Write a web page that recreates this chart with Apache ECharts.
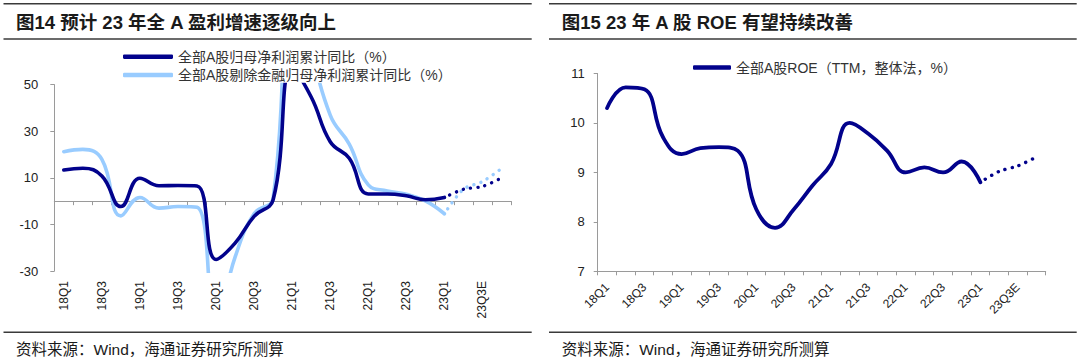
<!DOCTYPE html>
<html>
<head>
<meta charset="utf-8">
<script src="https://cdn.jsdelivr.net/npm/echarts@6/dist/echarts.min.js"></script>
<style>
html,body{margin:0;padding:0;background:#fff;}
#c{width:1080px;height:357px;}
</style>
</head>
<body>
<div id="c"></div>
<script>
// ---- data ----
const categories = ['18Q1','18Q2','18Q3','18Q4','19Q1','19Q2','19Q3','19Q4','20Q1','20Q2','20Q3','20Q4','21Q1','21Q2','21Q3','21Q4','22Q1','22Q2','22Q3','22Q4','23Q1','23Q2E','23Q3E','23Q4E'];
const leftYTicks = [-30, -10, 10, 30, 50];
const rightYTicks = [7, 8, 9, 10, 11];
const profitAll = [13.4, 14.1, 10.8, -2.3, 9.8, 6.6, 6.7, 6.5, -25.0, -18.0, -6.5, 0.6, 57.0, 44.7, 25.5, 18.4, 3.1, 3.1, 2.3, 0.6, 1.6, null, null, null];
const profitAllE = [null, null, null, null, null, null, null, null, null, null, null, null, null, null, null, null, null, null, null, null, 1.6, 5.1, 6.3, 10.0];
const profitExFin = [21.2, 22.2, 17.9, -6.3, 1.6, -3.0, -2.3, -2.6, -52.0, -24.0, -5.4, 1.3, 115.0, 68.0, 36.9, 24.5, 7.0, 4.4, 3.0, 0.1, -5.4, null, null, null];
const profitExFinE = [null, null, null, null, null, null, null, null, null, null, null, null, null, null, null, null, null, null, null, null, -5.4, 5.1, 8.4, 14.0];
const roe = [10.3, 10.72, 10.68, 9.71, 9.37, 9.49, 9.51, 9.44, 8.25, 7.88, 8.25, 8.73, 9.17, 10.0, 9.78, 9.44, 9.0, 9.1, 9.0, 9.22, 8.8, null, null, null];
const roeE = [null, null, null, null, null, null, null, null, null, null, null, null, null, null, null, null, null, null, null, null, 8.8, 9.02, 9.13, 9.31];
const nameAll = '全部A股归母净利润累计同比（%）';
const nameExFin = '全部A股剔除金融归母净利润累计同比（%）';
const nameRoe = '全部A股ROE（TTM，整体法，%）';

const DARK = '#02028C';
const LIGHT = '#99CCFF';
const AXIS = '#9a9a9a';
const LAT = "'Liberation Sans', Arial, 'Noto Sans CJK SC', sans-serif";
const CJK = "'Liberation Sans', 'Noto Sans CJK SC', sans-serif";

const chart = echarts.init(document.getElementById('c'), null, {renderer: 'svg', width: 1080, height: 357});

function hline(x1, x2, y) {
  return {type: 'line', shape: {x1: x1, y1: y, x2: x2, y2: y}, style: {stroke: '#3a3a3a', lineWidth: 1.6}, silent: true};
}
function txt(x, y, s, size, weight) {
  return {type: 'text', x: x, y: y, silent: true,
    style: {text: s, fill: '#1a1a1a', fontSize: size, fontWeight: weight, fontFamily: CJK, verticalAlign: 'middle', align: 'left'}};
}

const solid = (name, data, color, xi, yi, w) => ({
  name: name, type: 'line', data: data, xAxisIndex: xi, yAxisIndex: yi,
  smooth: 0.45, symbol: 'none', connectNulls: false,
  lineStyle: {color: color, width: w, cap: 'round', join: 'round'},
  itemStyle: {color: color}, z: 3
});
const dotted = (name, data, color, xi, yi, w) => ({
  name: name, type: 'line', data: data, xAxisIndex: xi, yAxisIndex: yi,
  smooth: 0.3, symbol: 'none', connectNulls: false,
  lineStyle: {color: color, width: w, type: [0.1, 7.2], dashOffset: -6, cap: 'round'},
  itemStyle: {color: color}, z: 2
});

const option = {
  animation: false,
  backgroundColor: '#fff',
  graphic: [
    hline(3.5, 531.7, 3.7), hline(3.5, 531.7, 39), hline(3.5, 531.7, 332.2),
    hline(549, 1076.7, 3.7), hline(549, 1076.7, 39), hline(549, 1076.7, 332.2),
    txt(16, 22, '图14 预计 23 年全 A 盈利增速逐级向上', 18.5, 'bold'),
    txt(561.7, 22, '图15 23 年 A 股 ROE 有望持续改善', 18.5, 'bold'),
    txt(16, 349, '资料来源：Wind，海通证券研究所测算', 15.5, 'normal'),
    txt(561.7, 349, '资料来源：Wind，海通证券研究所测算', 15.5, 'normal')
  ],
  legend: [
    {left: 123, top: 48.7, orient: 'vertical', padding: 0, itemGap: 2.3,
     itemWidth: 50, itemHeight: 4.5, icon: 'roundRect',
     data: [nameAll, nameExFin],
     textStyle: {fontSize: 14, color: '#333', fontFamily: CJK, lineHeight: 16}},
    {left: 693, top: 59.6, orient: 'vertical', padding: 0,
     itemWidth: 38, itemHeight: 4.5, icon: 'roundRect',
     data: [nameRoe],
     textStyle: {fontSize: 14, color: '#333', fontFamily: CJK, lineHeight: 16}}
  ],
  grid: [
    {left: 54.3, top: 84.6, width: 456.7, height: 186.5, containLabel: false, outerBoundsMode: 'none'},
    {left: 597.7, top: 73.5, width: 448, height: 197.8, containLabel: false, outerBoundsMode: 'none'}
  ],
  xAxis: [
    {gridIndex: 0, type: 'category', data: categories, boundaryGap: true,
     axisLine: {onZero: true, lineStyle: {color: AXIS, width: 1}},
     axisTick: {show: true, interval: 0, length: 4, lineStyle: {color: AXIS}},
     axisLabel: {interval: 1, rotate: 90, margin: 10, fontSize: 12, color: '#222', fontFamily: LAT},
     splitLine: {show: false}},
    {gridIndex: 1, type: 'category', data: categories, boundaryGap: true,
     axisLine: {lineStyle: {color: AXIS, width: 1}},
     axisTick: {show: true, interval: 0, length: 4, lineStyle: {color: AXIS}},
     axisLabel: {interval: 1, rotate: 45, margin: 14, fontSize: 12, color: '#222', fontFamily: LAT},
     splitLine: {show: false}}
  ],
  yAxis: [
    {gridIndex: 0, type: 'value', min: leftYTicks[0], max: leftYTicks[leftYTicks.length - 1], interval: leftYTicks[1] - leftYTicks[0],
     axisLine: {show: true, lineStyle: {color: AXIS, width: 1}},
     axisTick: {show: true, length: 4, lineStyle: {color: AXIS}},
     axisLabel: {margin: 16, fontSize: 13, color: '#222', fontFamily: LAT},
     splitLine: {show: false}},
    {gridIndex: 1, type: 'value', min: rightYTicks[0], max: rightYTicks[rightYTicks.length - 1], interval: rightYTicks[1] - rightYTicks[0],
     axisLine: {show: true, lineStyle: {color: AXIS, width: 1}},
     axisTick: {show: true, length: 4, lineStyle: {color: AXIS}},
     axisLabel: {margin: 13, fontSize: 13, color: '#222', fontFamily: LAT},
     splitLine: {show: false}}
  ],
  series: [
    solid(nameAll, profitAll, DARK, 0, 0, 3.6),
    solid(nameExFin, profitExFin, LIGHT, 0, 0, 3.6),
    dotted('exfinE', profitExFinE, LIGHT, 0, 0, 3.4),
    dotted('allE', profitAllE, DARK, 0, 0, 3.4),
    solid(nameRoe, roe, DARK, 1, 1, 3.8),
    dotted('roeE', roeE, DARK, 1, 1, 3.4)
  ]
};
option.series[0].z = 4;
chart.setOption(option);
</script>
</body>
</html>
